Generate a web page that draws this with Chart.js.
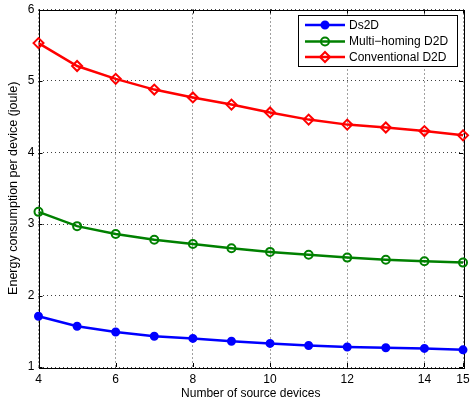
<!DOCTYPE html>
<html><head><meta charset="utf-8">
<script src="https://cdn.jsdelivr.net/npm/chart.js@4"></script>
<style>html,body{margin:0;padding:0;background:#fff}#wrap{width:470px;height:403px}</style>
</head><body><div id="wrap"><canvas id="c"></canvas></div>
<script>
const sourceDevices = [4,5,6,7,8,9,10,11,12,13,14,15];
const ds2d = [1.71,1.57,1.49,1.43,1.40,1.36,1.33,1.30,1.28,1.27,1.26,1.24];
const multiHoming = [3.17,2.97,2.86,2.78,2.72,2.66,2.61,2.57,2.53,2.50,2.48,2.46];
const conventional = [5.53,5.21,5.03,4.88,4.77,4.67,4.56,4.46,4.39,4.35,4.30,4.24];
const xTicks = [4,6,8,10,12,14,15];
const yTicks = [1,2,3,4,5,6];
const seriesLabels = ['Ds2D','Multi\u2212homing D2D','Conventional D2D'];
const xTitle = 'Number of source devices';
const yTitle = 'Energy consumption per device (joule)';

const FONT = 'Liberation Sans, Arial, Helvetica, sans-serif';

function mk(label, data, color, style, radius, fill) {
  return {
    label, data: sourceDevices.map((x,i)=>({x, y:data[i]})),
    borderColor: color, backgroundColor: fill ? color : 'rgba(0,0,0,0)',
    pointBackgroundColor: fill ? color : 'rgba(0,0,0,0)',
    pointBorderColor: color, pointStyle: style, pointRadius: radius,
    pointBorderWidth: 2, borderWidth: 2.5, tension: 0, clip: false
  };
}

const framePlugin = {
  id: 'frame',
  beforeDatasetsDraw(chart) {
    const {ctx, chartArea: a, scales} = chart;
    ctx.save();
    ctx.strokeStyle = '#000'; ctx.lineWidth = 1; ctx.setLineDash([]);
    ctx.strokeRect(Math.round(a.left)+0.5, Math.round(a.top)+0.5, Math.round(a.right-a.left), Math.round(a.bottom-a.top));
    const L = 4;
    ctx.beginPath();
    xTicks.forEach(v => {
      const px = Math.round(scales.x.getPixelForValue(v))+0.5;
      ctx.moveTo(px, a.bottom); ctx.lineTo(px, a.bottom - L);
      ctx.moveTo(px, a.top); ctx.lineTo(px, a.top + L);
    });
    yTicks.forEach(v => {
      const py = Math.round(scales.y.getPixelForValue(v))+0.5;
      ctx.moveTo(a.left, py); ctx.lineTo(a.left + L, py);
      ctx.moveTo(a.right, py); ctx.lineTo(a.right - L, py);
    });
    ctx.stroke();
    ctx.restore();
  },
  afterDraw(chart) {
    const {ctx} = chart;
    const bx = 298.5, by = 15.5, bw = 159, bh = 51;
    ctx.save();
    ctx.fillStyle = '#fff'; ctx.fillRect(bx, by, bw, bh);
    ctx.strokeStyle = '#000'; ctx.lineWidth = 1; ctx.strokeRect(bx, by, bw, bh);
    const rows = [25, 41.5, 57];
    chart.data.datasets.forEach((d, i) => {
      const y = rows[i];
      ctx.strokeStyle = d.borderColor; ctx.lineWidth = 2.5;
      ctx.beginPath(); ctx.moveTo(305, y); ctx.lineTo(345, y); ctx.stroke();
      ctx.lineWidth = 2;
      ctx.fillStyle = d.pointBackgroundColor; ctx.strokeStyle = d.borderColor;
      ctx.beginPath();
      if (d.pointStyle === 'circle') { ctx.arc(325, y, d.pointRadius, 0, Math.PI*2); }
      else { ctx.moveTo(325, y-d.pointRadius); ctx.lineTo(325+d.pointRadius, y); ctx.lineTo(325, y+d.pointRadius); ctx.lineTo(325-d.pointRadius, y); ctx.closePath(); }
      ctx.fill(); ctx.stroke();
      ctx.fillStyle = '#000'; ctx.font = '12px ' + FONT; ctx.textBaseline = 'middle'; ctx.textAlign = 'left';
      ctx.fillText(d.label, 349, y + 0.5);
    });
    ctx.restore();
  }
};

new Chart(document.getElementById('c'), {
  type: 'line',
  data: { datasets: [
    mk(seriesLabels[0], ds2d, '#0000ff', 'circle', 3.5, true),
    mk(seriesLabels[1], multiHoming, '#008000', 'circle', 4, false),
    mk(seriesLabels[2], conventional, '#ff0000', 'rectRot', 5, false)
  ]},
  options: {
    responsive: true, maintainAspectRatio: false, animation: false,
    layout: { padding: {left: 0, right: 6.5, top: 9.5, bottom: 0} },
    plugins: { legend: {display: false}, tooltip: {enabled: false} },
    scales: {
      x: {
        type: 'linear', min: 4, max: 15,
        afterBuildTicks: s => { s.ticks = xTicks.map(v => ({value: v})); },
        afterFit: s => { s.height = 36; s.paddingLeft = 0; s.paddingRight = 0; },
        ticks: { color: '#000', font: {family: FONT, size: 12}, padding: 5, maxRotation: 0, autoSkip: false },
        grid: { color: 'rgba(0,0,0,0.75)', lineWidth: 1, drawTicks: false, borderDash: [1,3] },
        border: { display: false, dash: [1,3] },
        title: { display: true, text: xTitle, color: '#000', font: {family: FONT, size: 12}, padding: {top: 0, bottom: 2} }
      },
      y: {
        type: 'linear', min: 1, max: 6,
        afterBuildTicks: s => { s.ticks = yTicks.map(v => ({value: v})); },
        afterFit: s => { s.width = 38.5; s.paddingTop = 0; s.paddingBottom = 0; },
        ticks: { color: '#000', font: {family: FONT, size: 12}, padding: 4 },
        grid: { color: 'rgba(0,0,0,0.75)', lineWidth: 1, drawTicks: false, borderDash: [1,3] },
        border: { display: false, dash: [1,3] },
        title: { display: true, text: yTitle, color: '#000', font: {family: FONT, size: 12.5}, padding: {top: 6, bottom: 0} }
      }
    }
  },
  plugins: [framePlugin]
});
</script></body></html>
